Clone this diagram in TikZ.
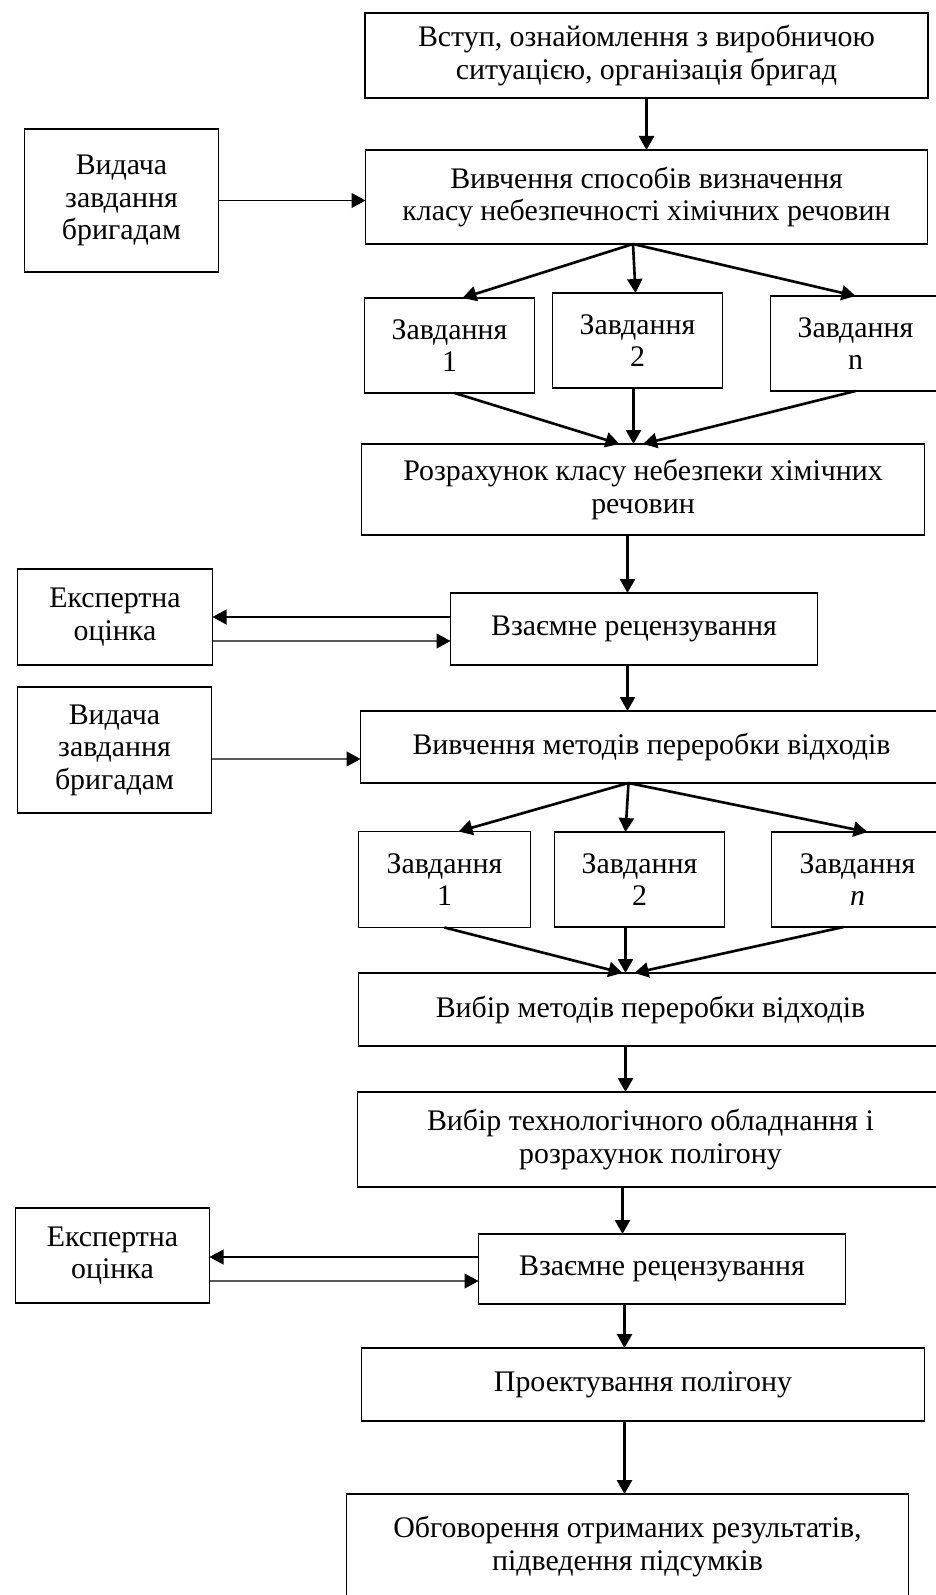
\documentclass[tikz,border=0pt]{standalone}
\usepackage{fontspec}
\setmainfont{Liberation Serif}
\usetikzlibrary{arrows.meta, positioning}
\tikzstyle{every picture} = [node distance=1cm]

\begin{document}
\begin{tikzpicture} [>={Triangle[length=0.28cm,width=0.3cm]},
            box/.style={draw,line width=1.1pt,outer sep=0pt,align=center,inner sep=1pt,font=\fontsize{17}{18.5}\selectfont},
            main/.style={box,minimum width=11.26cm},
            task/.style={box,minimum width=3.4cm,minimum height=1.9cm},
            side/.style={box,minimum width=3.88cm},
            arr/.style={->,line width=1.5pt},
            thin arr/.style={->,line width=0.7pt}]
            \useasboundingbox (0,0) rectangle (18.7,-31.9);
            \node (block 1) [main,minimum height=1.7cm] at (12.93,-1.11) {Вступ, ознайомлення з виробничою\\ситуацією, організація бригад};
            \node (block 2) [main,minimum width=11.24cm,minimum height=1.88cm,below=1.04cm of block 1] {Вивчення способів визначення\\класу небезпечності хімічних речовин};
            \node (side 1) [side,minimum height=2.86cm,left=2.94cm of block 2,yshift=-0.07cm] {Видача\\завдання\\бригадам};
            \node (task 12) [task,below=0.98cm of block 2,xshift=-0.18cm] {Завдання\\2};
            \node (task 11) [task,left=0.36cm of task 12,yshift=-0.1cm] {Завдання\\1};
            \node (task 1n) [task,right=0.96cm of task 12,yshift=-0.06cm] {Завдання\\n};
            \node (block 3) [main,minimum height=1.82cm,below=1.12cm of task 12,xshift=0.11cm] {Розрахунок класу небезпеки хімічних\\речовин};
            \node (block 4) [box,minimum width=7.34cm,minimum height=1.44cm,below=1.16cm of block 3,xshift=-0.18cm] {Взаємне рецензування};
            \node (side 2) [box,minimum width=3.9cm,minimum height=1.92cm,left=4.76cm of block 4,yshift=0.24cm] {Експертна\\оцінка};
            \node (block 5) [main,minimum width=11.64cm,minimum height=1.44cm,below=0.92cm of block 4,xshift=0.35cm] {Вивчення методів переробки відходів};
            \node (side 3) [side,minimum height=2.52cm,left=2.98cm of block 5,yshift=-0.06cm] {Видача\\завдання\\бригадам};
            \node (task 22) [task,below=0.98cm of block 5,xshift=-0.24cm] {Завдання\\2};
            \node (task 21) [task,minimum width=3.44cm,minimum height=1.92cm,left=0.48cm of task 22] {Завдання\\1};
            \node (task 2n) [task,minimum width=3.44cm,right=0.94cm of task 22] {Завдання\\\textit{n}};
            \node (block 6) [main,minimum width=11.68cm,minimum height=1.46cm,below=0.92cm of task 22,xshift=0.22cm] {Вибір методів переробки відходів};
            \node (block 7) [main,minimum width=11.72cm,minimum height=1.9cm,below=0.92cm of block 6] {Вибір технологічного обладнання і\\розрахунок полігону};
            \node (block 8) [box,minimum width=7.34cm,minimum height=1.4cm,below=0.94cm of block 7,xshift=0.23cm] {Взаємне рецензування};
            \node (side 4) [side,minimum height=1.9cm,left=5.38cm of block 8,yshift=0.27cm] {Експертна\\оцінка};
            \node (block 9) [main,minimum height=1.46cm,below=0.88cm of block 8,xshift=-0.38cm] {Проектування полігону};
            \node (block 10) [main,minimum width=11.24cm,minimum height=2.1cm,below=1.46cm of block 9,xshift=-0.31cm] {Обговорення отриманих результатів,\\підведення підсумків};

            \path (block 1) edge[arr] (block 2)
                  (side 1.east) edge[thin arr] (side 1.east -| block 2.west)
                  ([xshift=-0.27cm]block 2.south) edge[arr] ([xshift=0.26cm]task 11.north)
                  ([xshift=-0.27cm]block 2.south) edge[arr] ([xshift=-0.04cm]task 12.north)
                  ([xshift=-0.27cm]block 2.south) edge[arr] (task 1n.north)
                  ([xshift=0.1cm]task 11.south) edge[arr] ([xshift=-0.47cm]block 3.north)
                  ([xshift=-0.08cm]task 12.south) edge[arr] ([xshift=-0.19cm]block 3.north)
                  (task 1n.south) edge[arr] (block 3.north)
                  ([xshift=-0.31cm]block 3.south) edge[arr] ([xshift=-0.13cm]block 4.north)
                  ([yshift=0.24cm]block 4.west) edge[thin arr] (side 2.east)
                  ([yshift=-0.48cm]side 2.east) edge[thin arr] ([yshift=-0.24cm]block 4.west)
                  ([xshift=-0.13cm]block 4.south) edge[arr] ([xshift=-0.48cm]block 5.north)
                  ([yshift=-0.18cm]side 3.east) edge[thin arr] ([yshift=-0.24cm]block 5.west)
                  ([xshift=-0.46cm]block 5.south) edge[arr] ([xshift=0.28cm]task 21.north)
                  ([xshift=-0.46cm]block 5.south) edge[arr] ([xshift=-0.28cm]task 22.north)
                  ([xshift=-0.46cm]block 5.south) edge[arr] ([xshift=0.2cm]task 2n.north)
                  (task 21.south) edge[arr] ([xshift=-0.56cm]block 6.north)
                  ([xshift=-0.28cm]task 22.south) edge[arr] ([xshift=-0.5cm]block 6.north)
                  ([xshift=-0.28cm]task 2n.south) edge[arr] ([xshift=-0.32cm]block 6.north)
                  ([xshift=-0.5cm]block 6.south) edge[arr] ([xshift=-0.5cm]block 7.north)
                  ([xshift=-0.56cm]block 7.south) edge[arr] ([xshift=-0.79cm]block 8.north)
                  ([yshift=0.24cm]block 8.west) edge[thin arr] ([yshift=-0.03cm]side 4.east)
                  ([yshift=-0.51cm]side 4.east) edge[thin arr] ([yshift=-0.24cm]block 8.west)
                  ([xshift=-0.75cm]block 8.south) edge[arr] ([xshift=-0.37cm]block 9.north)
                  ([xshift=-0.37cm]block 9.south) edge[arr] ([xshift=-0.06cm]block 10.north);
        \end{tikzpicture}
\end{document}
